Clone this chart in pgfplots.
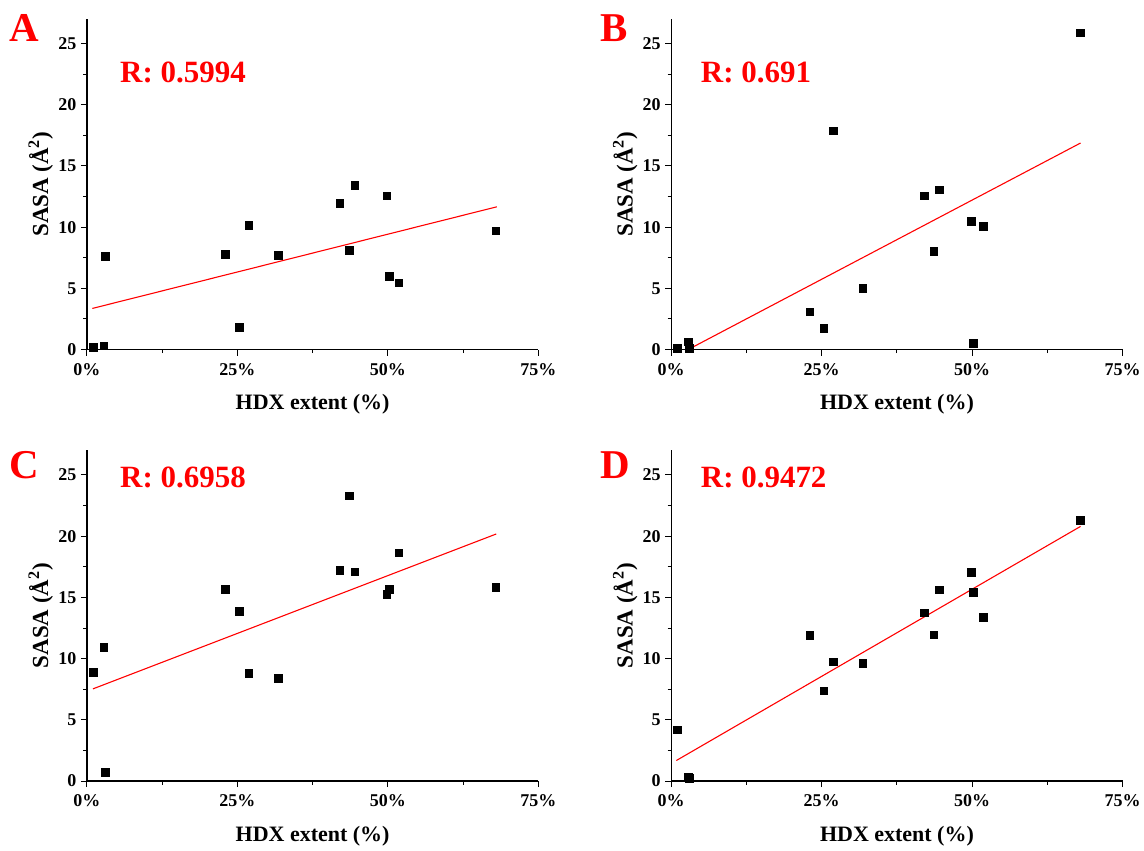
\documentclass[border=0pt]{standalone}
\usepackage{pgfplots}
\pgfplotsset{compat=1.18}
\usepackage{fontspec}
\setmainfont{Liberation Serif}
\definecolor{rred}{RGB}{255,0,0}
\pgfplotsset{
  panel/.style={
    scale only axis, width=452pt, height=331pt,
    anchor=south west,
    xmin=0, xmax=75, ymin=0, ymax=27,
    axis x line*=bottom, axis y line*=left,
    axis line style={line width=1.3pt, black},
    xtick={0,25,50,75}, ytick={0,5,10,15,20,25},
    minor x tick num=1, minor y tick num=1,
    tick align=outside,
    major tick length=6pt, minor tick length=3.5pt,
    every tick/.style={black, line width=1pt},
    /pgf/number format/assume math mode=true,
    xticklabel={\pgfmathprintnumber{\tick}\%},
    tick label style={font=\bfseries\fontsize{18}{18}\selectfont},
    xticklabel style={yshift=-4pt},
    yticklabel style={xshift=-1pt},
    every axis x label/.style={at={(axis description cs:0.5,-0.166)}, anchor=center, font=\bfseries\fontsize{22}{22}\selectfont},
    every axis y label/.style={at={(axis description cs:-0.102,0.5)}, rotate=90, anchor=center, font=\bfseries\fontsize{23}{23}\selectfont},
    xlabel={HDX extent (\%)},
    ylabel={SASA (Å\textsuperscript{2})},
    clip=false,
  },
  pts/.style={only marks, mark=square*, mark size=3.8pt, black, mark options={line width=0.3pt}},
  fit/.style={no marks, rred, line width=1.1pt},
}
\newcommand{\rlabel}[3]{\node[anchor=west, text=rred, font=\bfseries\fontsize{31}{31}\selectfont] at (axis description cs:#1,#2) {#3};}
\newcommand{\plabel}[3]{\node[anchor=center, text=rred, font=\bfseries\fontsize{41}{41}\selectfont] at (axis description cs:#1,#2) {#3};}
\begin{document}
\begin{tikzpicture}
\path (0,0) rectangle (1144pt,851pt);
% Panel A
\begin{axis}[panel, at={(87pt,501pt)}]
\addplot[pts] coordinates {
(1.0,0.19) (2.8,0.33) (3.0,7.62) (23.0,7.78) (25.3,1.84) (26.9,10.14) (31.8,7.70)
(42.0,11.98) (43.6,8.13) (44.5,13.45) (49.8,12.58) (50.2,5.99) (51.8,5.48) (67.9,9.71)};
\addplot[fit] coordinates {(0.9,3.36) (68.1,11.66)};
\rlabel{0.066}{0.837}{R: 0.5994}
\plabel{-0.139}{0.973}{A}
\end{axis}
% Panel B
\begin{axis}[panel, at={(672pt,501pt)}]
\addplot[pts] coordinates {
(1.0,0.14) (2.8,0.65) (3.0,0.10) (23.0,3.09) (25.3,1.74) (26.9,17.87) (31.8,5.04)
(42.0,12.58) (43.6,8.05) (44.5,13.07) (49.8,10.47) (50.2,0.54) (51.8,10.06) (67.9,25.87)};
\addplot[fit] coordinates {(2.8,0) (68.0,16.87)};
\rlabel{0.058}{0.837}{R: 0.691}
\plabel{-0.126}{0.973}{B}
\end{axis}
% Panel C
\begin{axis}[panel, at={(87pt,69pt)}]
\addplot[pts] coordinates {
(1.0,8.88) (2.8,10.94) (3.0,0.73) (23.0,15.68) (25.3,13.87) (26.9,8.80) (31.8,8.40)
(42.0,17.25) (43.6,23.32) (44.5,17.12) (49.8,15.28) (50.2,15.66) (51.8,18.66) (67.9,15.85)};
\addplot[fit] coordinates {(1.0,7.53) (68.0,20.18)};
\rlabel{0.066}{0.918}{R: 0.6958}
\plabel{-0.139}{0.955}{C}
\end{axis}
% Panel D
\begin{axis}[panel, at={(672pt,69pt)}]
\addplot[pts] coordinates {
(1.0,4.20) (2.8,0.33) (3.0,0.22) (23.0,11.94) (25.3,7.39) (26.9,9.75) (31.8,9.64)
(42.0,13.76) (43.6,11.97) (44.5,15.63) (49.8,17.04) (50.2,15.44) (51.8,13.38) (67.9,21.32)};
\addplot[fit] coordinates {(0.85,1.68) (68.0,20.8)};
\rlabel{0.058}{0.918}{R: 0.9472}
\plabel{-0.124}{0.955}{D}
\end{axis}
\end{tikzpicture}
\end{document}
